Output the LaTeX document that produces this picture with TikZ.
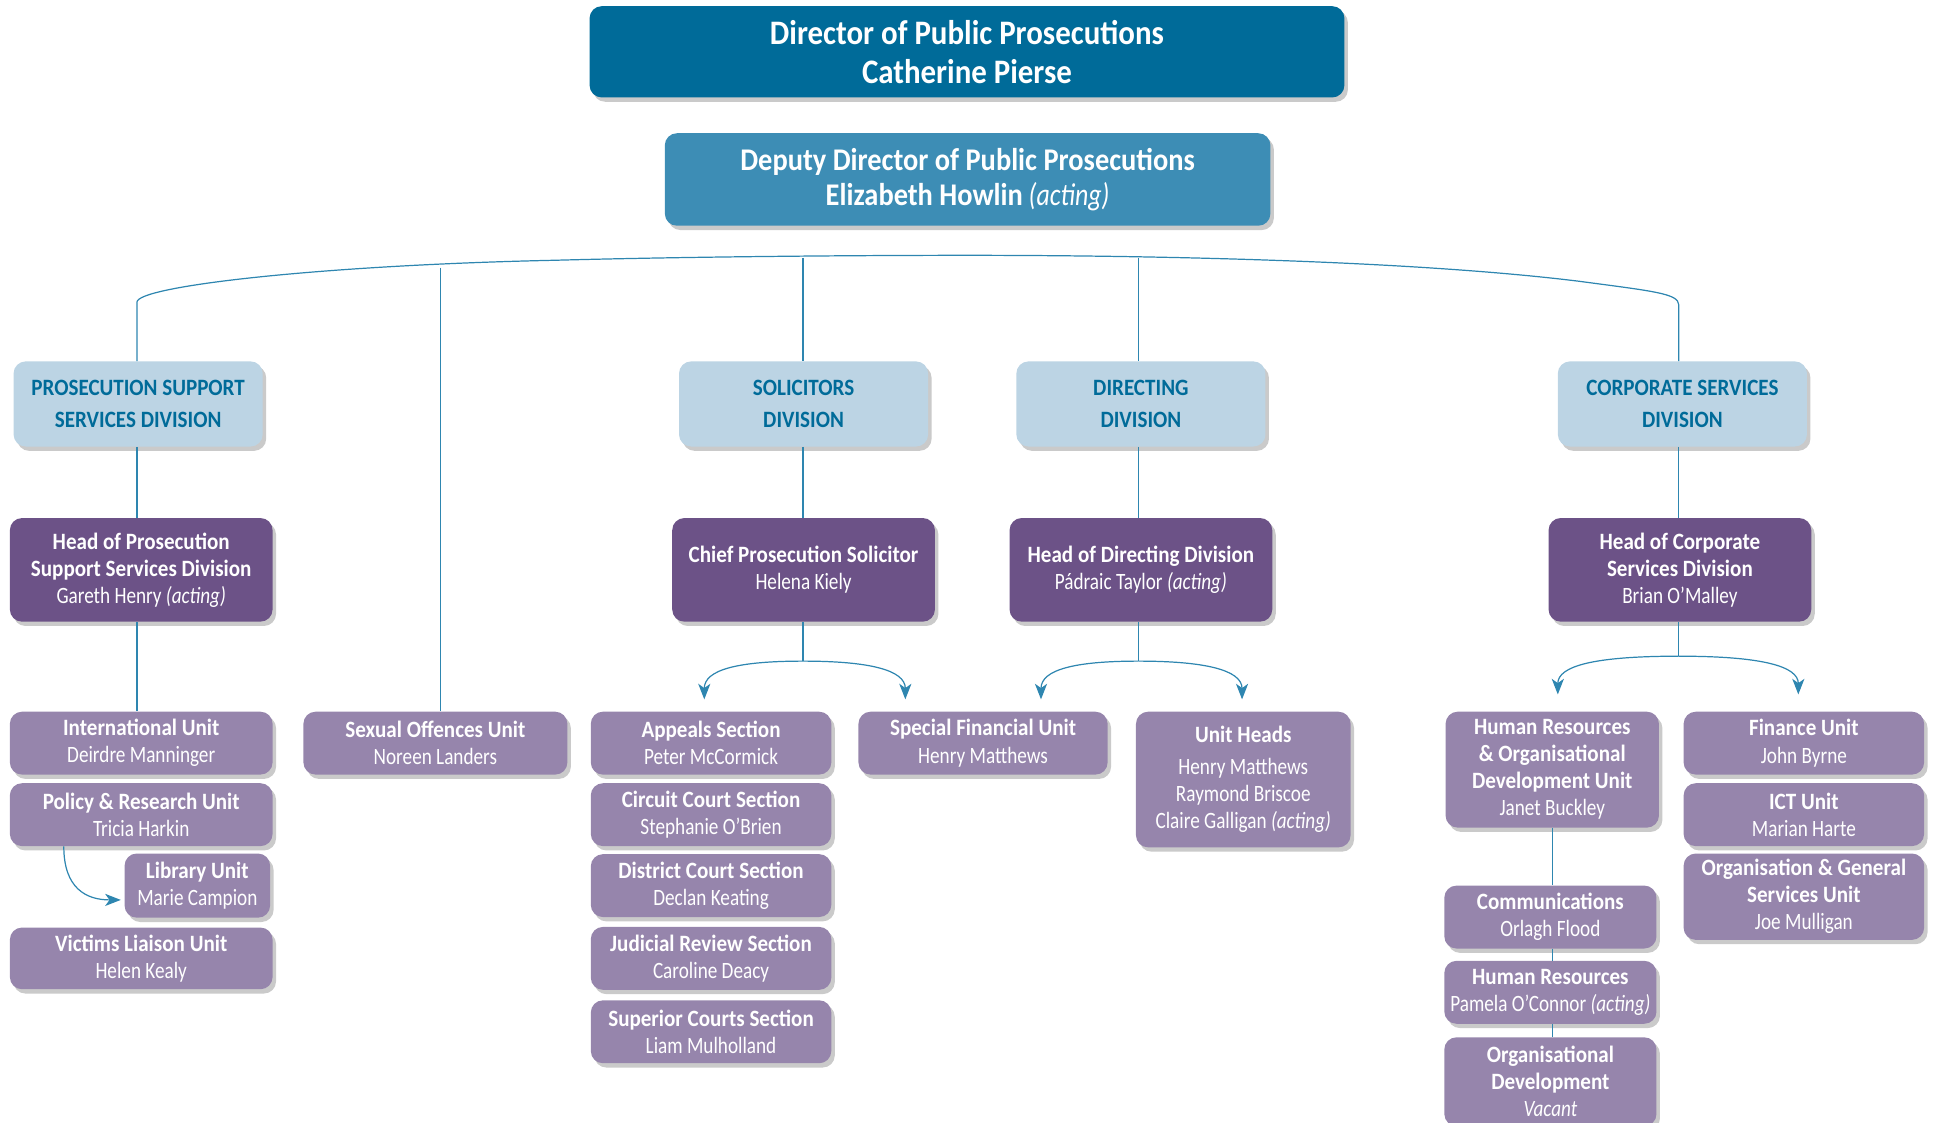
\documentclass[tikz,border=0pt]{standalone}
\usepackage{fontspec}
\setmainfont{Carlito}[UprightFeatures={FakeStretch=0.82}, ItalicFeatures={FakeStretch=0.82},
  BoldFeatures={FakeStretch=0.9}, BoldItalicFeatures={FakeStretch=0.9}]
\usetikzlibrary{shadows,arrows.meta}
\definecolor{dppdark}{RGB}{0,107,153}
\definecolor{dppmid}{RGB}{61,141,181}
\definecolor{divfill}{RGB}{188,212,228}
\definecolor{headfill}{RGB}{108,82,135}
\definecolor{unitfill}{RGB}{150,133,172}
\definecolor{linkblue}{RGB}{46,134,176}

\begin{document}
\begin{tikzpicture}[x=0.025cm, y=-0.025cm,
  boxsize/.style 2 args={minimum width=#1*0.025cm, minimum height=#2*0.025cm},
  box/.style={rectangle, rounded corners=7pt, inner sep=0pt, align=center, text=white,
    drop shadow={shadow xshift=2pt, shadow yshift=-2.5pt, fill=black!60, opacity=0.35}},
  topbox/.style={box, fill=dppdark, font=\fontsize{19.8}{22.7}\selectfont\bfseries},
  deputybox/.style={box, fill=dppmid, font=\fontsize{18.2}{20.6}\selectfont},
  divbox/.style={box, fill=divfill, text=dppdark, font=\fontsize{13.5}{18.5}\selectfont\bfseries, boxsize={202}{69}},
  headbox/.style={box, fill=headfill, font=\fontsize{13.5}{15.6}\selectfont, boxsize={213}{84}},
  unitbox/.style={box, fill=unitfill, font=\fontsize{13.5}{15.6}\selectfont},
  link/.style={draw=linkblue, line width=0.7pt},
  arr/.style={link, -{Stealth[length=9pt, width=7pt, inset=2.5pt]}},
]
  \useasboundingbox (0,0) rectangle (1568,910);

  \node[topbox, boxsize={612}{74}] (dpp) at (784,42) {Director of Public Prosecutions\\Catherine Pierse};
  \node[deputybox, boxsize={491}{75}] (ddpp) at (784.5,145.5) {\textbf{Deputy Director of Public Prosecutions}\\\textbf{Elizabeth Howlin} \textit{(acting)}};

  \node[divbox] (pss) at (112,327.5) {PROSECUTION SUPPORT\\SERVICES DIVISION};
  \node[divbox] (sol) at (651.5,327.5) {SOLICITORS\\DIVISION};
  \node[divbox] (dir) at (925,327.5) {DIRECTING\\DIVISION};
  \node[divbox] (corp) at (1364,327.5) {CORPORATE SERVICES\\DIVISION};

  \node[headbox] (headpss) at (114.5,462) {\textbf{Head of Prosecution}\\\textbf{Support Services Division}\\Gareth Henry \textit{(acting)}};
  \node[headbox] (chief) at (651.5,462) {\textbf{Chief Prosecution Solicitor}\\Helena Kiely};
  \node[headbox] (headdir) at (925,462) {\textbf{Head of Directing Division}\\Pádraic Taylor \textit{(acting)}};
  \node[headbox] (headcorp) at (1362,462) {\textbf{Head of Corporate}\\\textbf{Services Division}\\Brian O'Malley};

  \node[unitbox, boxsize={213}{51}] (intl) at (114.5,602.5) {\textbf{International Unit}\\Deirdre Manninger};
  \node[unitbox, boxsize={213}{51}] (policy) at (114.5,660.5) {\textbf{Policy \& Research Unit}\\Tricia Harkin};
  \node[unitbox, boxsize={118}{52}] (library) at (160,718) {\textbf{Library Unit}\\Marie Campion};
  \node[unitbox, boxsize={213}{50}] (victims) at (114.5,777) {\textbf{Victims Liaison Unit}\\Helen Kealy};
  \node[unitbox, boxsize={214}{51}] (sou) at (353,602.5) {\textbf{Sexual Offences Unit}\\Noreen Landers};

  \node[unitbox, boxsize={195}{51}] (appeals) at (576.5,602.5) {\textbf{Appeals Section}\\Peter McCormick};
  \node[unitbox, boxsize={195}{51}] (circuit) at (576.5,660.5) {\textbf{Circuit Court Section}\\Stephanie O'Brien};
  \node[unitbox, boxsize={195}{51}] (district) at (576.5,718) {\textbf{District Court Section}\\Declan Keating};
  \node[unitbox, boxsize={195}{51}] (judicial) at (576.5,777) {\textbf{Judicial Review Section}\\Caroline Deacy};
  \node[unitbox, boxsize={195}{51}] (superior) at (576.5,836.5) {\textbf{Superior Courts Section}\\Liam Mulholland};
  \node[unitbox, boxsize={202}{51}] (sfu) at (797,602.5) {\textbf{Special Financial Unit}\\Henry Matthews};
  \node[unitbox, boxsize={174}{110}] (unitheads) at (1008,632) {\textbf{Unit Heads}\\[3pt]Henry Matthews\\Raymond Briscoe\\Claire Galligan \textit{(acting)}};

  \node[unitbox, boxsize={173}{94}] (hrod) at (1258.5,624) {\textbf{Human Resources}\\\textbf{\& Organisational}\\\textbf{Development Unit}\\Janet Buckley};
  \node[unitbox, boxsize={172}{51}] (comms) at (1257,743.5) {\textbf{Communications}\\Orlagh Flood};
  \node[unitbox, boxsize={172}{51}] (hres) at (1257,804.5) {\textbf{Human Resources}\\Pamela O'Connor \textit{(acting)}};
  \node[unitbox, boxsize={172}{72}] (orgdev) at (1257,877) {\textbf{Organisational}\\\textbf{Development}\\\textit{Vacant}};
  \node[unitbox, boxsize={195}{51}] (finance) at (1462.5,602.5) {\textbf{Finance Unit}\\John Byrne};
  \node[unitbox, boxsize={195}{51}] (ict) at (1462.5,660.5) {\textbf{ICT Unit}\\Marian Harte};
  \node[unitbox, boxsize={195}{70}] (ogs) at (1462.5,727) {\textbf{Organisation \& General}\\\textbf{Services Unit}\\Joe Mulligan};

  \coordinate (arcl) at (111,245);
  \coordinate (arcm) at (784,207);
  \coordinate (arcr) at (1361,247);
  \coordinate (tsou) at (357,217);
  \coordinate (tsol) at (651,209);
  \coordinate (tdir) at (923,209);
  \draw[link] (pss.north -| arcl) -- (arcl) .. controls (111,232) and (260,215) .. (450,211)
    .. controls (560,208) and (700,207) .. (arcm) .. controls (950,207) and (1150,212) .. (1280,228)
    .. controls (1340,236) and (1361,238) .. (arcr) -- (corp.north -| arcr);
  \draw[link] (tsou) -- (tsou |- sou.north);
  \draw[link] (tsol) -- (tsol |- sol.north);
  \draw[link] (tdir) -- (tdir |- dir.north);

  \draw[link] (pss.south -| arcl) -- (headpss.north -| arcl);
  \draw[link] (sol.south -| tsol) -- (chief.north -| tsol);
  \draw[link] (dir.south -| tdir) -- (headdir.north -| tdir);
  \draw[link] (corp.south -| arcr) -- (headcorp.north -| arcr);
  \draw[link] (headpss.south -| arcl) -- (intl.north -| arcl);

  \draw[arr] ([xshift=1.1cm]policy.south west) .. controls +(0,34) and +(-28,0) .. ([xshift=-2pt, yshift=-0.29cm]library.west);

  \coordinate (jsol) at (651,536);
  \coordinate (tappeals) at (571,567);
  \coordinate (tsfu) at (734,567);
  \draw[link] (chief.south -| jsol) -- (jsol);
  \draw[arr] (jsol) .. controls (598,536) and (571,543) .. (tappeals);
  \draw[arr] (jsol) .. controls (704,536) and (734,543) .. (tsfu);

  \coordinate (jdir) at (923,536);
  \coordinate (tsfu2) at (844,567);
  \coordinate (tunits) at (1007,567);
  \draw[link] (headdir.south -| jdir) -- (jdir);
  \draw[arr] (jdir) .. controls (871,536) and (844,543) .. (tsfu2);
  \draw[arr] (jdir) .. controls (976,536) and (1007,543) .. (tunits);

  \coordinate (jcorp) at (1361,532);
  \coordinate (throd) at (1263,563);
  \coordinate (tfin) at (1458,563);
  \draw[link] (headcorp.south -| jcorp) -- (jcorp);
  \draw[arr] (jcorp) .. controls (1292,532) and (1263,540) .. (throd);
  \draw[arr] (jcorp) .. controls (1428,532) and (1458,540) .. (tfin);

  \draw[link] (hrod.south -| hrod) -- (comms.north -| hrod);
  \draw[link] (comms.south -| hrod) -- (hres.north -| hrod);
  \draw[link] (hres.south -| hrod) -- (orgdev.north -| hrod);
\end{tikzpicture}
\end{document}
